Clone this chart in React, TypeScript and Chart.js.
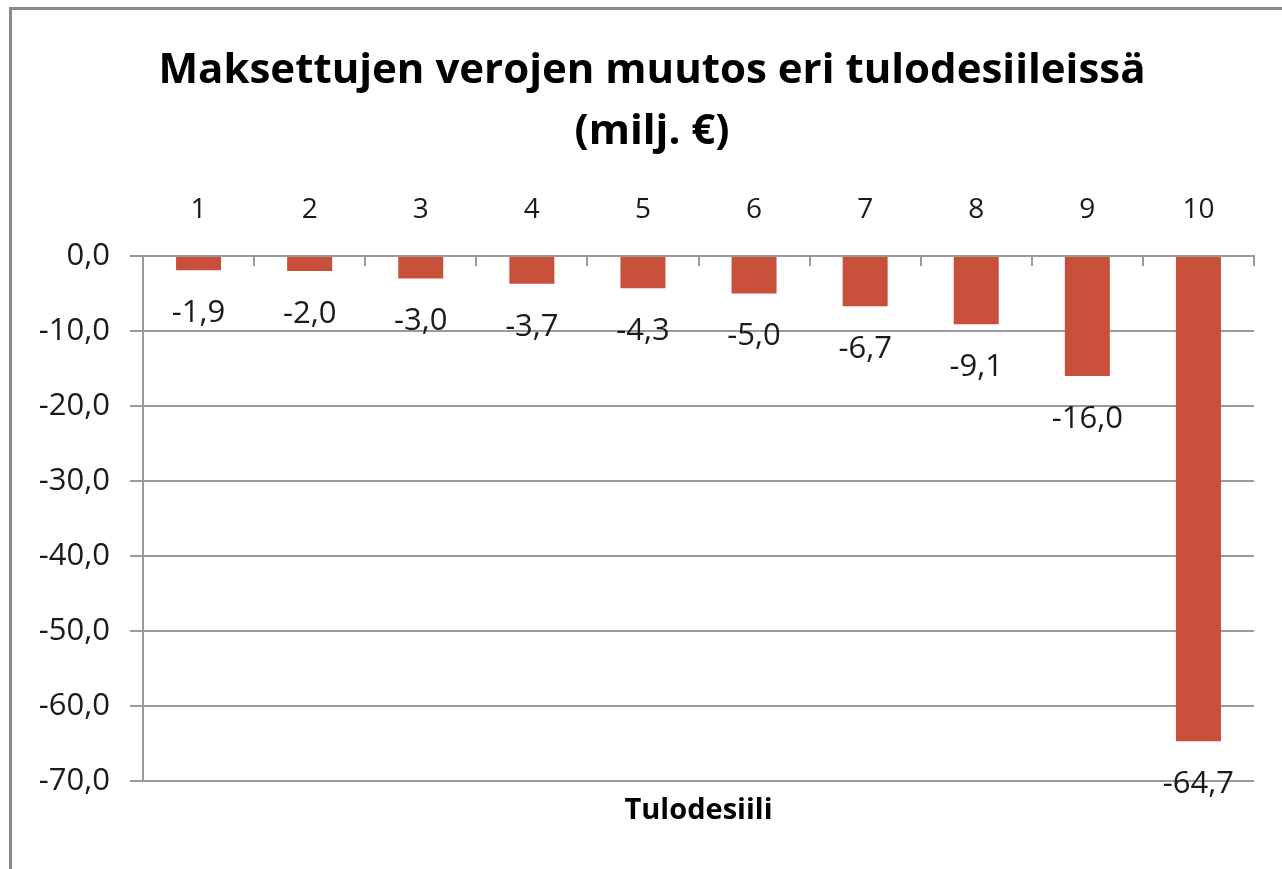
import React, { useEffect, useRef } from "react";
import { Chart, registerables } from "chart.js";

Chart.register(...registerables);

const titleLines = ["Maksettujen verojen muutos eri tulodesiileissä", "(milj. €)"];
const categories = ["1", "2", "3", "4", "5", "6", "7", "8", "9", "10"];
const taxChange = [-1.9, -2.0, -3.0, -3.7, -4.3, -5.0, -6.7, -9.1, -16.0, -64.7];
const axisTitle = "Tulodesiili";
const yMin = -70;
const yMax = 0;
const yStep = 10;

const FONT = "'Open Sans', 'Noto Sans', sans-serif";
const GRID = "#9a9a9a";
const BAR = "#c8503b";
const TEXT = "#1a1a1a";

const fmt = (v: number) => v.toFixed(1).replace(".", ",");

const dataLabels = {
  id: "dataLabels",
  afterDatasetsDraw(chart: any) {
    const ctx = chart.ctx;
    const meta = chart.getDatasetMeta(0);
    ctx.save();
    ctx.font = `31px ${FONT}`;
    ctx.fillStyle = TEXT;
    ctx.textAlign = "center";
    ctx.textBaseline = "middle";
    meta.data.forEach((el: any, i: number) => {
      const v = chart.data.datasets[0].data[i];
      ctx.fillText(fmt(v), el.x, el.y + 43);
    });
    ctx.restore();
  },
};

// Centre the title over the whole chart frame (which starts ~50px in from the left)
const titleShift = {
  id: "titleShift",
  afterLayout(chart: any) {
    const t = chart.titleBlock;
    if (t) {
      t.left = 50;
      t.width = t.right - t.left;
    }
  },
};

export default function App() {
  const ref = useRef<HTMLCanvasElement | null>(null);
  useEffect(() => {
    if (!ref.current) return;
    const chart = new Chart(ref.current, {
      type: "bar",
      data: {
        labels: categories,
        datasets: [
          {
            data: taxChange,
            backgroundColor: BAR,
            borderWidth: 0,
            categoryPercentage: 1,
            barPercentage: 0.405,
            xAxisID: "x",
            yAxisID: "y",
          },
        ],
      },
      options: {
        animation: false,
        responsive: false,
        devicePixelRatio: 1,
        layout: { padding: { left: 0, right: 28, top: 0, bottom: 0 } },
        plugins: {
          legend: { display: false },
          tooltip: { enabled: false },
          title: {
            display: true,
            text: titleLines,
            color: "#000",
            font: { family: FONT, size: 42, weight: "bold", lineHeight: 61 / 42 },
            padding: { top: 41, bottom: 0 },
          },
        },
        scales: {
          x: {
            type: "category",
            position: "top",
            offset: true,
            grid: {
              display: true,
              drawOnChartArea: false,
              drawTicks: true,
              tickLength: -10,
              offset: true,
              color: GRID,
              lineWidth: 2,
            },
            border: { display: true, color: GRID, width: 2 },
            ticks: {
              color: TEXT,
              font: { family: FONT, size: 28, lineHeight: 1.2 },
              padding: 39,
              maxRotation: 0,
            },
            afterFit: (s: any) => {
              s.height = 93;
            },
          },
          x2: {
            type: "category",
            position: "bottom",
            offset: true,
            grid: { display: false, drawTicks: false },
            border: { display: false },
            ticks: { display: false },
            title: {
              display: true,
              text: axisTitle,
              color: "#000",
              font: { family: FONT, size: 29, weight: "bold", lineHeight: 1.2 },
              padding: { top: 0, bottom: 41 },
            },
            afterFit: (s: any) => {
              s.height = 88;
            },
          },
          y: {
            min: yMin,
            max: yMax,
            ticks: {
              stepSize: yStep,
              color: TEXT,
              font: { family: FONT, size: 31 },
              padding: 20,
              callback: (v: any) => fmt(Number(v)),
            },
            grid: {
              color: GRID,
              lineWidth: 2,
              drawTicks: true,
              tickLength: 13,
            },
            border: { display: true, color: GRID, width: 2 },
            afterFit: (s: any) => {
              s.width = 143;
            },
          },
        },
      },
      plugins: [dataLabels, titleShift],
    });
    return () => chart.destroy();
  }, []);

  return (
    <div style={{ position: "fixed", left: 0, top: 0, width: 1282, height: 869, overflow: "hidden", background: "#fff" }}>
      <div
        style={{
          position: "absolute",
          left: 9,
          top: 7,
          width: 1400,
          height: 1000,
          border: "3px solid #8a8a8a",
          boxSizing: "border-box",
        }}
      />
      <canvas
        ref={ref}
        width={1282}
        height={869}
        style={{ position: "absolute", left: 0, top: 0, width: 1282, height: 869 }}
      />
    </div>
  );
}
